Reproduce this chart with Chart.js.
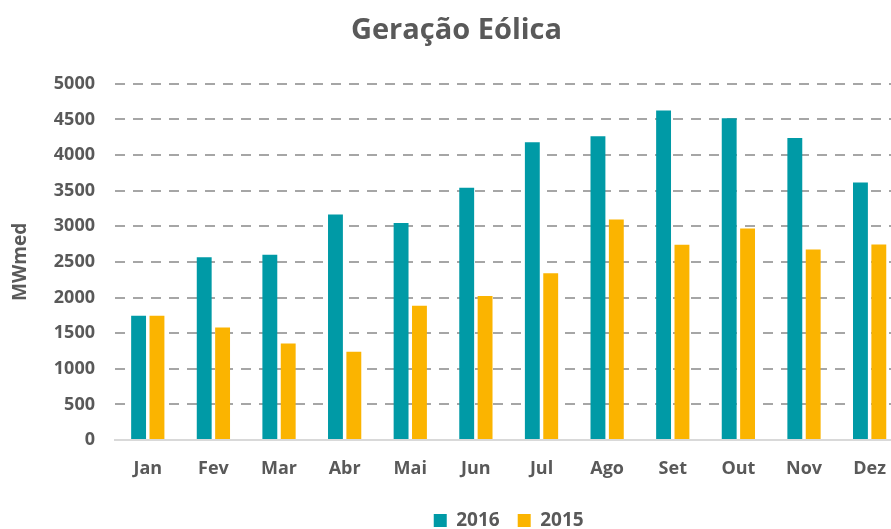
<!DOCTYPE html>
<html>
<head>
<meta charset="utf-8">
<script src="https://cdn.jsdelivr.net/npm/chart.js@4"></script>
<style>
    html, body {
        margin: 0;
        padding: 0;
        background: #fff;
        overflow: hidden;
    }

    #wrap {
        position: relative;
        width: 904px;
        height: 529px;
    }
</style>
</head>
<body>
<div id="wrap">
    <canvas id="myChart"></canvas>
</div>

<script>
    const months = ['Jan', 'Fev', 'Mar', 'Abr', 'Mai', 'Jun', 'Jul', 'Ago', 'Set', 'Out', 'Nov', 'Dez'];
    const values2016 = [1745, 2565, 2600, 3165, 3045, 3540, 4180, 4265, 4625, 4515, 4240, 3615];
    const values2015 = [1745, 1580, 1355, 1240, 1885, 2020, 2340, 3095, 2740, 2970, 2675, 2745];
    const yTicks = [0, 500, 1000, 1500, 2000, 2500, 3000, 3500, 4000, 4500, 5000];

    const textColor = '#595959';
    const fontFamily = '"Open Sans", "DejaVu Sans", sans-serif';

    const data = {
        labels: months,
        datasets: [{
            label: '2016',
            backgroundColor: '#009aa6',
            data: values2016,
            categoryPercentage: 0.56,
            barPercentage: 0.81
        }, {
            label: '2015',
            backgroundColor: '#fbb400',
            data: values2015,
            categoryPercentage: 0.56,
            barPercentage: 0.81
        }]
    };

    const config = {
        type: 'bar',
        data: data,
        options: {
            responsive: true,
            maintainAspectRatio: false,
            animation: false,
            layout: {
                // negative bottom pushes the legend down to the canvas edge
                padding: { left: 9, right: 0, top: 8, bottom: -11 }
            },
            plugins: {
                title: {
                    display: true,
                    text: 'Geração Eólica',
                    color: textColor,
                    font: { family: fontFamily, size: 29, weight: 'bold' },
                    padding: { top: 5, bottom: 36 }
                },
                legend: {
                    position: 'bottom',
                    fullSize: false,
                    labels: {
                        color: textColor,
                        font: { family: fontFamily, size: 19, weight: 'bold' },
                        boxWidth: 13,
                        boxHeight: 13,
                        padding: 18
                    }
                },
                tooltip: { enabled: false }
            },
            scales: {
                x: {
                    grid: { display: false, drawTicks: false },
                    border: { color: '#d9d9d9', width: 2 },
                    ticks: {
                        color: textColor,
                        font: { family: fontFamily, size: 18, weight: 'bold' },
                        padding: 18
                    },
                    afterFit: function (scale) {
                        scale.height = 53;
                    }
                },
                y: {
                    min: 0,
                    max: 5000,
                    afterBuildTicks: function (scale) {
                        scale.ticks = yTicks.map(v => ({ value: v }));
                    },
                    border: { display: false, dash: [10, 8] },
                    grid: {
                        color: function (ctx) {
                            return ctx.tick.value === 0 ? 'rgba(0,0,0,0)' : '#a6a6a6';
                        },
                        lineWidth: 2,
                        drawTicks: false
                    },
                    ticks: {
                        color: textColor,
                        font: { family: fontFamily, size: 18, weight: 'bold' },
                        padding: 20,
                        callback: function (value) {
                            return String(value);
                        }
                    },
                    title: {
                        display: true,
                        text: 'MWmed',
                        color: textColor,
                        font: { family: fontFamily, size: 19, weight: 'bold' },
                        padding: { top: 0, bottom: 2 }
                    }
                }
            }
        }
    };

    const myChart = new Chart(
        document.getElementById('myChart'),
        config
    );
</script>
</body>
</html>
